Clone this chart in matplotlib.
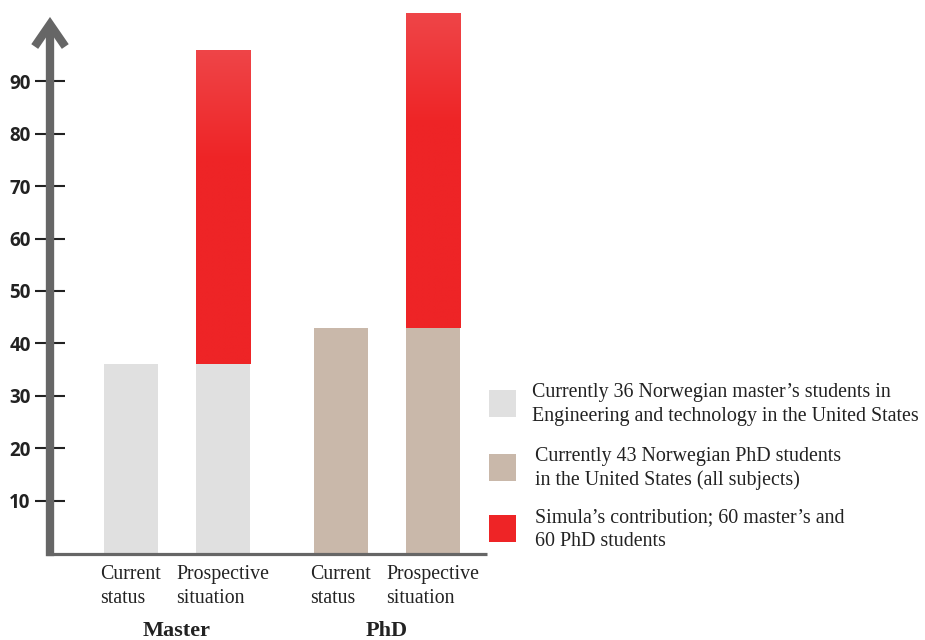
import matplotlib.pyplot as plt
import numpy as np
from matplotlib.patches import Rectangle
from matplotlib.colors import to_rgb

# Norwegian students in the US, before/after Simula's contribution
groups = ["Master", "PhD"]
bar_labels = ["Current\nstatus", "Prospective\nsituation"]
current = [36, 43]          # current number of students per group
simula = [0, 60]            # added by Simula (current / prospective bar)
yticks = [10, 20, 30, 40, 50, 60, 70, 80, 90]

legend_labels = [
    "Currently 36 Norwegian master\u2019s students in\nEngineering and technology in the United States",
    "Currently 43 Norwegian PhD students\nin the United States (all subjects)",
    "Simula\u2019s contribution; 60 master\u2019s and\n60 PhD students",
]

base_colors = ["#e0e0e0", "#c9b8aa"]
red = "#ee2426"
red_top = "#ef4548"
axis_grey = "#666666"
serif = ["Liberation Serif", "DejaVu Serif"]

W, H = 925, 640
fig = plt.figure(figsize=(W / 100, H / 100), dpi=100)

# axes box in pixels: left edge on the arrow shaft, bottom on the baseline
px_unit = 92.0
x_left, x_right = -1.38, -1.38 + 437 / px_unit
y_top = 105
y_px = 5.24
ax = fig.add_axes([50 / W, (H - 553) / H, 437 / W, y_top * y_px / H])
ax.set_xlim(x_left, x_right)
ax.set_ylim(0, y_top)

group_centers = np.array([0.0, 2.28])
offsets = [-0.5, 0.5]
bar_w = 0.59


def gradient_fill(ax, rect, c_top, c_bot):
    # lighter band at the top of a bar, solid below
    n = 200
    t = np.linspace(0, 1, n)
    mix = np.clip(t / 0.35, 0, 1)[:, None]
    top, bot = np.array(to_rgb(c_top)), np.array(to_rgb(c_bot))
    img = (top * (1 - mix) + bot * mix)[:, None, :]
    x0, y0 = rect.get_x(), rect.get_y()
    im = ax.imshow(img, extent=[x0, x0 + rect.get_width(), y0, y0 + rect.get_height()],
                   origin="upper", aspect="auto", zorder=3, interpolation="bilinear")
    im.set_clip_path(rect)


for g, gc in enumerate(group_centers):
    for j, off in enumerate(offsets):
        x = gc + off
        ax.bar(x, current[g], bar_w, color=base_colors[g], zorder=2)
        if simula[j]:
            bars = ax.bar(x, simula[j], bar_w, bottom=current[g], color=red, zorder=2)
            gradient_fill(ax, bars[0], red_top, red)
        ax.text(x, -2.2, bar_labels[j], ha="center", va="top", multialignment="left",
                family=serif, fontsize=14.3, color="#222222", linespacing=1.36)
    ax.text(gc, -15.8, groups[g], ha="center", va="baseline", family=serif,
            fontsize=16, fontweight="bold", color="#222222")

ax.set_xlim(x_left, x_right)
ax.set_ylim(0, y_top)

# axes: hide spines, draw a thick arrow and a baseline instead
for s in ax.spines.values():
    s.set_visible(False)
ax.set_xticks([])
ax.set_yticks(yticks)
ax.set_yticklabels([str(v) for v in yticks], family="Open Sans", fontweight="bold",
                   fontsize=13.5, color="#222222")
ax.tick_params(axis="y", direction="inout", length=22, width=1.5, color="#222222", pad=3)

ax.plot([x_left - 4 / px_unit, x_right], [-0.2, -0.2], color=axis_grey, lw=2.3,
        clip_on=False, solid_capstyle="butt", zorder=4)
ax.annotate("", xy=(0, 102.3), xytext=(0, -0.6),
            xycoords=("axes fraction", "data"), textcoords=("axes fraction", "data"),
            arrowprops=dict(arrowstyle="->,head_length=0.8,head_width=0.55",
                            lw=6, color=axis_grey, shrinkA=0, shrinkB=0,
                            mutation_scale=20, joinstyle="miter", capstyle="butt"),
            annotation_clip=False, zorder=5)

# legend, drawn by hand
leg_y = [403.5, 467.5, 528.5]
leg_tx = [532, 535, 535]
leg_colors = [base_colors[0], base_colors[1], red]
for yc, tx, col, lab in zip(leg_y, leg_tx, leg_colors, legend_labels):
    fig.add_artist(Rectangle((489 / W, (H - yc - 13.5) / H), 27 / W, 27 / H,
                             transform=fig.transFigure, color=col, lw=0))
    fig.text(tx / W, (H - yc - 1) / H, lab, ha="left", va="center", family=serif,
             fontsize=14.4, color="#222222", linespacing=1.3)

fig.savefig("out.png", dpi=100)
